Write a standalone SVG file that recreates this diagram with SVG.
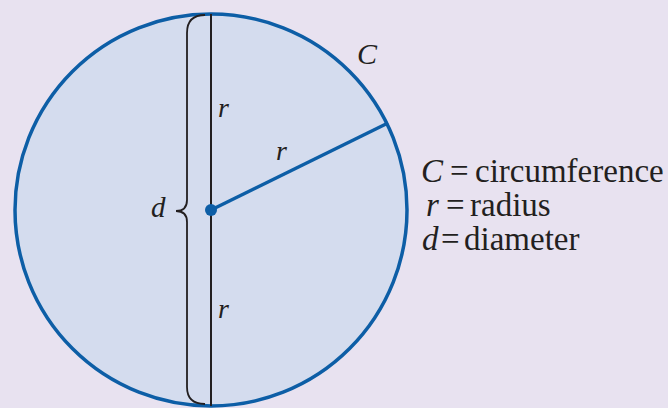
<svg xmlns="http://www.w3.org/2000/svg" width="668" height="408" viewBox="0 0 668 408">
<style>
.t{font-family:"Liberation Serif","Times New Roman",serif;fill:#231f20}
.i{font-style:italic}
.blue{stroke:#0d5ea6;fill:none}
.ink{stroke:#231f20;fill:none}
</style>
<rect width="668" height="408" fill="#e8e2f0"/>
<g id="circle">
<circle cx="211" cy="210" r="196" fill="#d4dcee" stroke="#0d5ea6" stroke-width="3.5"/>
</g>
<g id="connectors">
<line class="ink" x1="211" y1="14" x2="211" y2="406" stroke-width="2"/>
<line class="blue" x1="211" y1="210" x2="388" y2="123" stroke-width="3.5"/>
<path class="ink" stroke-width="1.8" d="M205,15 Q187,15 187,33 L187,200 Q187,211 176,211 Q187,211 187,222 L187,387 Q187,404 205,404"/>
</g>
<g id="center">
<circle cx="211" cy="210" r="6" fill="#0d5ea6"/>
</g>
<g id="labels">
<text class="t i" x="357" y="64" font-size="30">C</text>
<text class="t i" x="218" y="117" font-size="28">r</text>
<text class="t i" x="276" y="160" font-size="28">r</text>
<text class="t i" x="218" y="318" font-size="28">r</text>
<text class="t i" x="151" y="217" font-size="29">d</text>
</g>
<g id="legend" class="t" font-size="33">
<text y="182"><tspan class="i" x="421">C</tspan><tspan x="450">=</tspan><tspan x="475">circumference</tspan></text>
<text y="216"><tspan class="i" x="426">r</tspan><tspan x="446">=</tspan><tspan x="470">radius</tspan></text>
<text y="250"><tspan class="i" x="422">d</tspan><tspan x="441">=</tspan><tspan x="464">diameter</tspan></text>
</g>
</svg>
